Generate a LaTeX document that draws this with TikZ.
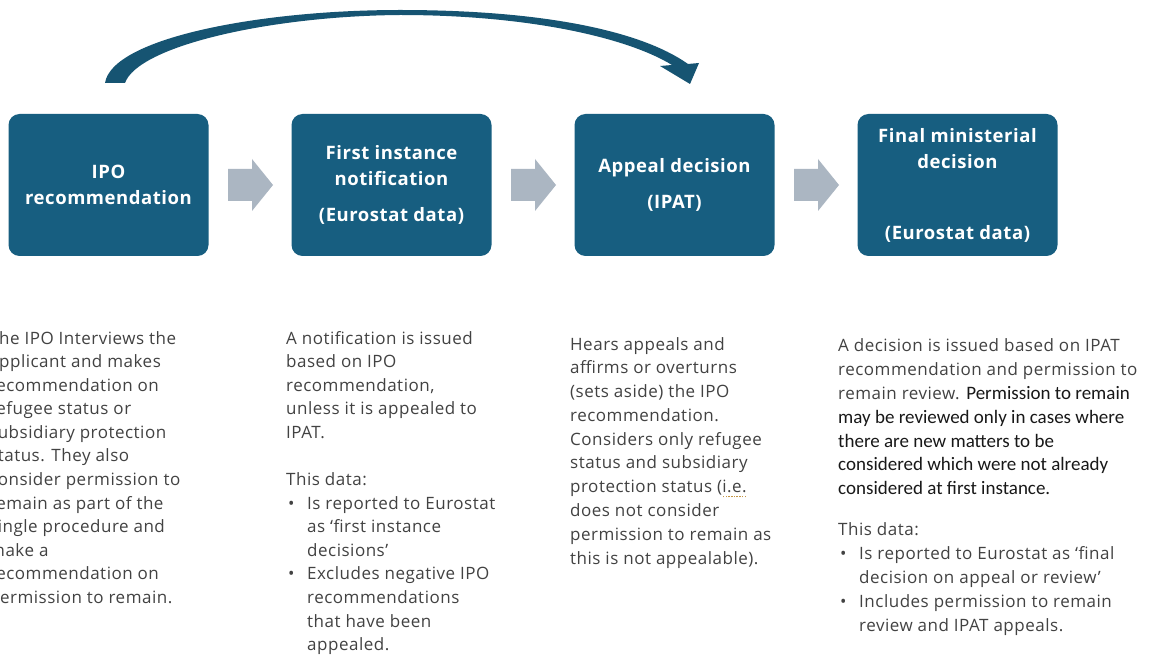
\documentclass[tikz,border=0pt]{standalone}
\usepackage{fontspec}
\setmainfont{Open Sans}
\newfontfamily\bodyf[LetterSpace=3]{Open Sans}
\newfontfamily\titlef[LetterSpace=3]{Open Sans}
\newfontfamily\calf{Carlito}
\usetikzlibrary{calc}
\definecolor{boxblue}{RGB}{23,94,128}
\definecolor{arcblue}{RGB}{22,84,114}
\definecolor{arrowgray}{RGB}{171,182,194}
\definecolor{bodygray}{RGB}{66,66,66}
\definecolor{calblack}{RGB}{24,24,24}
\definecolor{squig}{RGB}{196,150,70}
\newcommand\squiggle[1]{\sbox0{#1}\rlap{\usebox0}\hbox to \wd0{\color{squig}\xleaders\hbox to 2.7pt{\hss\rule[-4.5pt]{1.5pt}{1.5pt}\hss}\hfill}}
\newcommand\bul{\makebox[21pt][l]{\kern2pt•}}
\newcommand\ind{\hspace*{21pt}}
\tikzset{
  stage/.style={fill=boxblue, rounded corners=11pt, minimum width=200pt, minimum height=142pt,
    inner sep=0pt, text=white, align=center, font=\titlef\bfseries\fontsize{18.5}{26}\selectfont},
  flow/.style={fill=arrowgray, draw=none},
  body/.style={anchor=base west, inner sep=0pt, text=bodygray, font=\bodyf\fontsize{17}{23.6}\selectfont}
}
\begin{document}
\begin{tikzpicture}[x=1pt,y=-1pt]
\useasboundingbox (0,0) rectangle (1152,655);
\clip (0,0) rectangle (1152,655);
\fill[white] (0,0) rectangle (1152,655);

% stage boxes
\node[stage] (b1) at (108.5,185) {IPO\\recommendation};
\node[stage] (b2) at (391.5,185) {First instance\\notification\\[10pt](Eurostat data)};
\node[stage] (b3) at (674.5,185) {Appeal decision\\[10pt](IPAT)};
\node[stage] (b4) at (957.5,185) {Final ministerial\\decision\\[45pt](Eurostat data)};

% block arrows between boxes
\foreach \l/\p/\q in {a1/b1/b2, a2/b2/b3, a3/b3/b4}{
  \coordinate (\l) at ($(\p.east)!0.5!(\q.west)$);
  \fill[flow] ($(\l)+(-22,-16)$) -- ($(\l)+(2,-16)$) -- ($(\l)+(2,-26)$) -- ($(\l)+(23,0)$)
    -- ($(\l)+(2,26)$) -- ($(\l)+(2,16)$) -- ($(\l)+(-22,16)$) -- cycle;
}

% curved arrow from b1 to b3
\fill[arcblue] (105,83) .. controls (112,38) and (260,10) .. (400,10)
  .. controls (540,10) and (640,30) .. (688,64) -- (699,63) -- (690,84) -- (660,66) -- (672,65)
  .. controls (628,38) and (530,15) .. (400,15)
  .. controls (270,16) and (138,46) .. (125,83) -- cycle;

% descriptions
\node[body] (d1) at (-11,344) {\parbox[t]{260pt}{\raggedright
The IPO Interviews the\\
applicant and makes\\
recommendation on\\
refugee status or\\
subsidiary protection\\
status. They also\\
consider permission to\\
remain as part of the\\
single procedure and\\
make a\\
recommendation on\\
permission to remain.}};

\node[body] (d2) at (286,344) {\parbox[t]{260pt}{\raggedright
A notification is issued\\
based on IPO\\
recommendation,\\
unless it is appealed to\\
IPAT.\\[23.6pt]
This data:\\
\bul Is reported to Eurostat\\
\ind as ‘first instance\\
\ind decisions’\\
\bul Excludes negative IPO\\
\ind recommendations\\
\ind that have been\\
\ind appealed.}};

\node[body, font=\bodyf\fontsize{17}{23.8}\selectfont] (d3) at (570,350) {\parbox[t]{260pt}{\raggedright
Hears appeals and\\
affirms or overturns\\
(sets aside) the IPO\\
recommendation.\\
Considers only refugee\\
status and subsidiary\\
protection status (\squiggle{i.e.}\\
does not consider\\
permission to remain as\\
this is not appealable).}};

\node[body, font=\bodyf\fontsize{17}{23.8}\selectfont] (d4) at (838,352) {\parbox[t]{330pt}{\raggedright
A decision is issued based on IPAT\\
recommendation and permission to\\
remain review. {\calf\fontsize{19}{23.8}\selectfont\color{calblack}Permission to remain}\\
{\calf\fontsize{19}{23.8}\selectfont\color{calblack}may be reviewed only in cases where\\
there are new matters to be\\
considered which were not already\\
considered at first instance.}\\[17.4pt]
This data:\\
\bul Is reported to Eurostat as ‘final\\
\ind decision on appeal or review’\\
\bul Includes permission to remain\\
\ind review and IPAT appeals.}};
\end{tikzpicture}
\end{document}
